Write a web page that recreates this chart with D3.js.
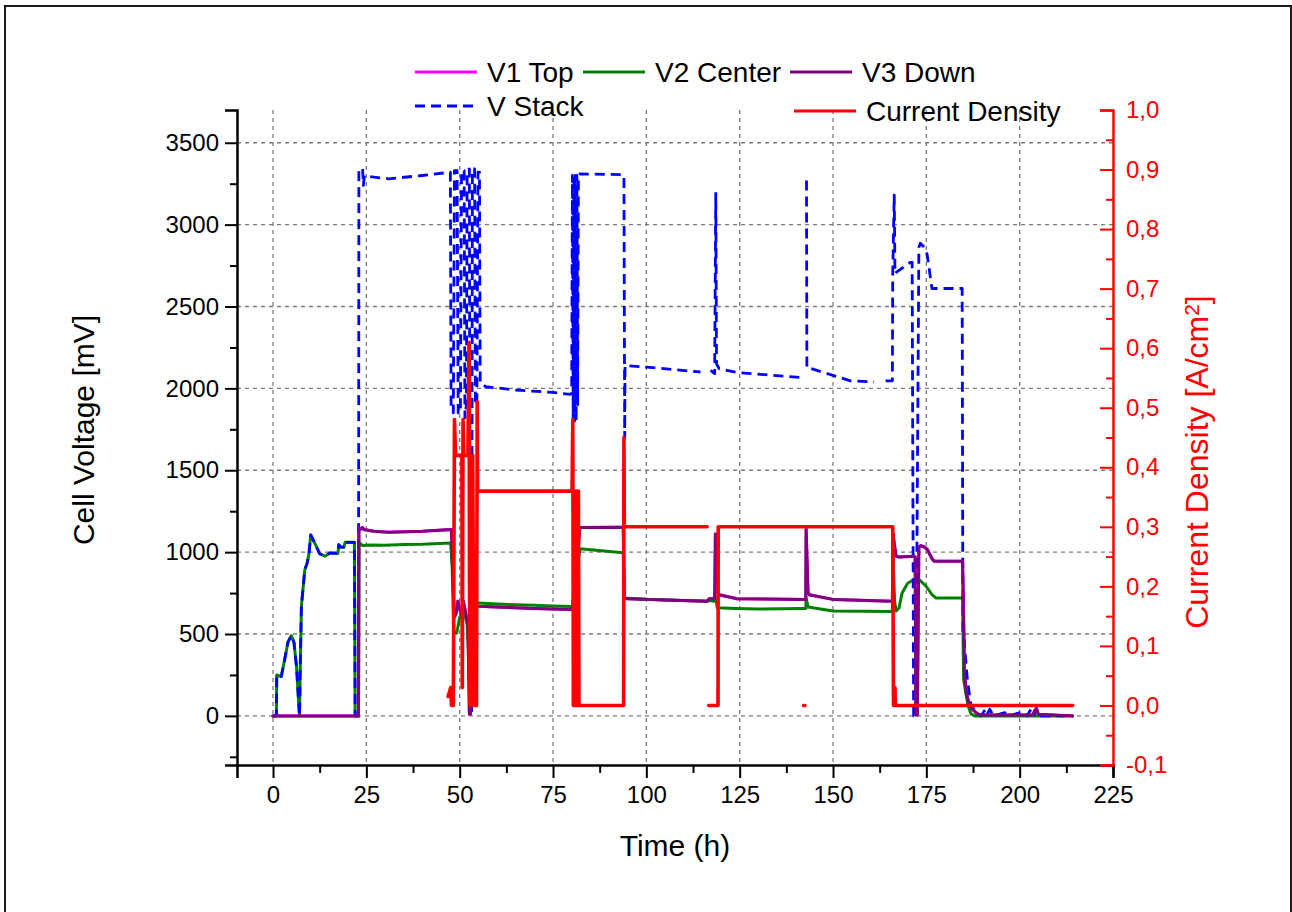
<!DOCTYPE html>
<html>
<head>
<meta charset="utf-8">
<script src="https://cdn.jsdelivr.net/npm/d3@7"></script>
<style>
  html, body { margin: 0; padding: 0; background: #fff; }
  svg { display: block; }
  text { font-family: "Liberation Sans", Arial, sans-serif; }
</style>
</head>
<body>
<svg id="chart" width="1292" height="912"></svg>
<script>
// ---------------- DATA ----------------
// Time axis ticks (h)
const xTicks = [0, 25, 50, 75, 100, 125, 150, 175, 200, 225];
// Left axis ticks (mV)
const yLeftTicks = [0, 500, 1000, 1500, 2000, 2500, 3000, 3500];
// Right axis ticks (A/cm2) and their labels
const yRightTicks = [-0.1, 0.0, 0.1, 0.2, 0.3, 0.4, 0.5, 0.6, 0.7, 0.8, 0.9, 1.0];
const yRightLabels = ["-0,1", "0,0", "0,1", "0,2", "0,3", "0,4", "0,5", "0,6", "0,7", "0,8", "0,9", "1,0"];

// V2 Center (mV)
const v2Time = [0, 0.9, 1.0, 2.2, 3.0, 4.0, 4.9, 5.6, 6.3, 7.0, 7.1, 7.3, 7.6, 8.5, 9.1, 9.6, 10.1, 11.5, 12.5, 13.9, 15.2, 17.4, 17.6, 18.2, 19.0, 19.3, 21.8, 22.0, 22.9, 23.0, 24.0, 26, 30, 35, 40, 47.6, 48.0, 48.4, 49.2, 50.0, 51.0, 52.0, 52.6, 53.2, 54.0, 55, 60, 65, 70, 75, 79.8, 80.2, 82.2, 93.8, 94.1, 100, 110, 116.3, 116.8, 118.3, 118.5, 119.0, 124, 130, 141.8, 142.7, 142.8, 143.3, 150, 165.9, 166.1, 166.5, 166.9, 167.7, 168.5, 170, 171.5, 173.2, 175, 176.5, 177.6, 184.7, 185.0, 185.5, 186.2, 187, 188, 214.2];
const v2Val  = [0, 0, 250, 240, 330, 450, 490, 450, 300, 30, 0, 300, 670, 890, 930, 985, 1105, 1040, 990, 975, 995, 992, 1045, 1030, 1030, 1060, 1060, 0, 0, 1060, 1040, 1044, 1042, 1046, 1048, 1055, 900, 520, 506, 600, 650, 560, 300, 640, 690, 690, 683, 678, 675, 671, 668, 668, 1020, 996, 720, 712, 705, 700, 705, 700, 730, 660, 655, 652, 655, 655, 720, 665, 640, 638, 965, 700, 640, 660, 750, 810, 830, 830, 790, 740, 720, 720, 220, 150, 60, 10, 0, 0];

// V3 Down (mV)
const v3Time = [0, 22.9, 23.0, 23.5, 24.0, 24.3, 27, 31, 40, 47.8, 48.1, 48.5, 49.0, 49.5, 50.0, 50.5, 51.0, 51.5, 52.2, 52.6, 52.9, 53.2, 53.8, 54.3, 55, 60, 70, 79.8, 80.2, 82.2, 93.8, 94.1, 95, 105, 116.3, 116.8, 118.3, 118.5, 119.0, 119.5, 124.3, 142.7, 142.8, 143.3, 143.6, 150.3, 165.9, 166.1, 166.6, 166.9, 167.7, 171.7, 172.0, 172.2, 172.6, 173.0, 173.5, 174.5, 175.3, 176.5, 177.1, 184.7, 185.0, 185.2, 185.8, 186.5, 187.4, 188.5, 189.7, 203.5, 204.0, 204.5, 205.0, 214.2];
const v3Val  = [0, 0, 1150, 1140, 1150, 1138, 1128, 1122, 1128, 1138, 900, 600, 620, 700, 650, 620, 700, 640, 560, 10, 10, 640, 700, 680, 670, 665, 655, 650, 650, 1150, 1152, 720, 715, 708, 700, 715, 715, 1110, 760, 740, 715, 710, 1140, 760, 740, 710, 700, 1110, 1020, 975, 970, 975, 970, 5, 5, 1030, 1040, 1030, 1015, 960, 945, 945, 600, 260, 130, 70, 40, 15, 5, 5, 30, 45, 10, 0];

// V1 Top (mV): in the picture it lies exactly beneath V3 Down and is not visible
const v1Time = v3Time;
const v1Val  = v3Val;

// V Stack (mV); null = gap in the trace
const stackTime = [0, 0.9, 1.0, 2.2, 3.0, 4.0, 4.9, 5.6, 6.3, 7.0, 7.1, 7.3, 7.6, 8.5, 9.1, 9.6, 10.1, 11.5, 12.5, 13.9, 15.2, 17.4, 17.6, 18.2, 19.0, 19.3, 21.8, 22.0, 22.9, 23.0, 24.0, 24.2, 24.5, 27, 31, 40, 47.5,
  47.7, 48.3, 48.6, 49.3, 49.6, 50.2, 50.5, 51.2, 51.4, 51.8, 52.0, 52.6, 52.8, 53.2, 53.4, 54.0, 54.2, 54.6, 54.9, 55.3, 55.5, 57, 65, 75, 79.6, 80.0,
  80.2, 80.4, 80.6, 80.8, 81.0, 81.2, 81.4, 81.6, 81.8, 82.2, 93.8, 94.0, 94.2, 94.3, 100, 114.5, null, 117.2, 118.3, 118.6, 118.8, 119.5, 124.3, 141.8, null,
  142.9, 143.0, 144.0, 154.7, 161.0, null, 164.1, 165.9, 166.0, 166.4, 166.6, 167.0, 170.7, 171.2, 171.6, 172.2, 173.0, 173.4, 174.5, 175.2, 176.5, 184.6,
  184.8, 185.1, 186.0, 187.0, 189.7, 190.5, 191, 192, 193, 196, 197, 201, 202, 203, 204, 204.5, 205, 214.2];
const stackVal = [0, 0, 250, 240, 330, 450, 490, 450, 300, 30, 0, 300, 670, 890, 930, 985, 1105, 1040, 990, 975, 995, 992, 1045, 1030, 1030, 1060, 1060, 0, 0, 3340, 3340, 3240, 3300, 3290, 3280, 3300, 3320,
  1900, 1850, 3330, 3330, 1850, 1850, 3330, 3330, 1820, 1900, 3330, 3340, 30, 30, 3340, 3340, 1900, 1900, 3320, 3320, 2030, 2010, 1990, 1975, 1964, 1970,
  3300, 1800, 3300, 1800, 3300, 1800, 3300, 1900, 3300, 3310, 3305, 3300, 1700, 2140, 2130, 2100, null, 2110, 2090, 3190, 2150, 2120, 2097, 2066, null,
  3270, 2125, 2122, 2046, 2040, null, 2046, 2046, 2700, 3180, 2700, 2710, 2770, 2770, 0, 0, 2860, 2886, 2860, 2820, 2610, 2610,
  500, 465, 220, 57, 0, 30, 0, 40, 0, 20, 0, 25, 0, 40, 10, 45, 0, 0];

// Current Density (A/cm2); null = gap
const curTime = [46.9, 47.6, 47.8, 48.3, 48.6, 48.9, 50.6, 50.7, 50.9, 51.1, 52.2, 52.5, 52.7, 53.3, 53.5, 53.8, 54.5, 54.7, 54.8, 80.1,
  80.3, 80.45, 80.6, 80.75, 80.9, 81.05, 81.2, 81.35, 81.5, 81.65, 81.8, 81.95, 82.2, 93.9, 94.0, 94.1, 116.3, null, 116.7, 119.2, 119.25,
  166.0, 166.2, 166.3, 166.6, 166.7, 214.2, null, 142.1, 142.5];
const curVal  = [0.015, 0.03, 0.0, 0.0, 0.48, 0.42, 0.42, 0.03, 0.48, 0.42, 0.42, 0.61, 0.0, 0.0, 0.42, 0.0, 0.0, 0.51, 0.36, 0.36,
  0.48, 0.0, 0.36, 0.0, 0.36, 0.0, 0.36, 0.0, 0.36, 0.0, 0.36, 0.0, 0.0, 0.0, 0.45, 0.3, 0.3, null, 0.0, 0.0, 0.3,
  0.3, 0.0, 0.03, 0.03, 0.0, 0.0, null, 0.0, 0.0];

// ---------------- DRAWING ----------------
const svg = d3.select("#chart");
const W = 1292, H = 912;
const plot = { left: 237, right: 1113, top: 110, bottom: 765 };

const x = d3.scaleLinear().domain([-9.65, 225]).range([plot.left, plot.right]);
const yL = d3.scaleLinear().domain([-300, 3700]).range([plot.bottom, plot.top]);
const yR = d3.scaleLinear().domain([-0.1, 1.0]).range([plot.bottom, plot.top]);

svg.append("rect").attr("x", 0).attr("y", 0).attr("width", W).attr("height", H).attr("fill", "#fff");
// outer frame
svg.append("rect").attr("x", 5).attr("y", 6).attr("width", 1286).attr("height", 930)
  .attr("fill", "none").attr("stroke", "#1a1a1a").attr("stroke-width", 2);

// grid
const grid = svg.append("g").attr("stroke", "#7a7a7a").attr("stroke-width", 1.3).attr("stroke-dasharray", "4,4");
xTicks.filter(t => t < 225).forEach(t => {
  grid.append("line").attr("x1", x(t)).attr("x2", x(t)).attr("y1", plot.top).attr("y2", plot.bottom);
});
yLeftTicks.forEach(t => {
  grid.append("line").attr("x1", plot.left).attr("x2", plot.right).attr("y1", yL(t)).attr("y2", yL(t));
});

// series
const zip = (t, v) => t.map((d, i) => [d, v[i]]);
const lineL = d3.line().defined(d => d[0] != null && d[1] != null).x(d => x(d[0])).y(d => yL(d[1]));
const lineR = d3.line().defined(d => d[0] != null && d[1] != null).x(d => x(d[0])).y(d => yR(d[1]));

const series = [
  { data: zip(v1Time, v1Val), line: lineL, color: "#ff00ff", width: 3, dash: null },
  { data: zip(v2Time, v2Val), line: lineL, color: "#008000", width: 3, dash: null },
  { data: zip(stackTime, stackVal), line: lineL, color: "#0000ff", width: 2.8, dash: "10,6" },
  { data: zip(v3Time, v3Val), line: lineL, color: "#800080", width: 3, dash: null },
  { data: zip(curTime, curVal), line: lineR, color: "#ff0000", width: 3.6, dash: null },
];
svg.append("clipPath").attr("id", "clip").append("rect")
  .attr("x", plot.left).attr("y", plot.top).attr("width", plot.right - plot.left).attr("height", plot.bottom - plot.top);
const gS = svg.append("g").attr("clip-path", "url(#clip)");
series.forEach(s => {
  gS.append("path").datum(s.data).attr("d", s.line).attr("fill", "none")
    .attr("stroke", s.color).attr("stroke-width", s.width)
    .attr("stroke-linejoin", "round").attr("stroke-linecap", s.dash ? "butt" : "round")
    .attr("stroke-dasharray", s.dash);
});

const tickFont = "24px";
// bottom axis
const minorX = d3.range(12.5, 225, 25);
const gx = svg.append("g").attr("transform", `translate(0,${plot.bottom})`);
gx.call(d3.axisBottom(x).tickValues(xTicks).tickSize(13).tickPadding(8).tickFormat(d3.format("d")));
gx.append("g").call(d3.axisBottom(x).tickValues(minorX).tickSize(8).tickFormat(""))
  .select(".domain").remove();
gx.selectAll(".domain").attr("stroke", "#000").attr("stroke-width", 2.5);
gx.selectAll(".tick line").attr("stroke", "#000").attr("stroke-width", 2);
gx.selectAll(".tick text").attr("font-size", tickFont).attr("fill", "#000");

// left axis
const minorYL = d3.range(-250, 3700, 500);
const gyl = svg.append("g").attr("transform", `translate(${plot.left},0)`);
gyl.call(d3.axisLeft(yL).tickValues(yLeftTicks).tickSize(12).tickPadding(6).tickFormat(d3.format("d")));
gyl.append("g").call(d3.axisLeft(yL).tickValues(minorYL).tickSize(7).tickFormat(""))
  .select(".domain").remove();
gyl.selectAll(".domain").attr("stroke", "#000").attr("stroke-width", 2.5);
gyl.selectAll(".tick line").attr("stroke", "#000").attr("stroke-width", 2);
gyl.selectAll(".tick text").attr("font-size", tickFont).attr("fill", "#000");

// right axis (red, ticks pointing inward)
const minorYR = d3.range(-0.05, 1.0, 0.1);
const gyr = svg.append("g").attr("transform", `translate(${plot.right},0)`);
gyr.call(d3.axisRight(yR).tickValues(yRightTicks).tickSize(-13).tickPadding(13)
  .tickFormat((d, i) => yRightLabels[i]));
gyr.append("g").call(d3.axisRight(yR).tickValues(minorYR).tickSize(-7).tickFormat(""))
  .select(".domain").remove();
gyr.selectAll(".domain").attr("stroke", "#ff0000").attr("stroke-width", 2.5);
gyr.selectAll(".tick line").attr("stroke", "#ff0000").attr("stroke-width", 2);
gyr.selectAll(".tick text").attr("font-size", tickFont).attr("fill", "#ff0000");

// axis titles
svg.append("text").attr("transform", "translate(94,430) rotate(-90)")
  .attr("text-anchor", "middle").attr("font-size", "30px").attr("fill", "#000").text("Cell Voltage [mV]");
svg.append("text").attr("x", 675).attr("y", 856).attr("text-anchor", "middle")
  .attr("font-size", "30px").attr("fill", "#000").text("Time (h)");
const rt = svg.append("text").attr("transform", "translate(1208,462) rotate(-90)")
  .attr("text-anchor", "middle").attr("font-size", "32px").attr("fill", "#ff0000");
rt.append("tspan").text("Current Density [A/cm");
rt.append("tspan").attr("dy", "-0.45em").attr("font-size", "21px").text("2");
rt.append("tspan").attr("dy", "0.3em").text("]");

// legend
const legend = [
  { label: "V1 Top", color: "#ff00ff", dash: null, x: 415, y: 72 },
  { label: "V2 Center", color: "#008000", dash: null, x: 583, y: 72 },
  { label: "V3 Down", color: "#800080", dash: null, x: 790, y: 72 },
  { label: "V Stack", color: "#0000ff", dash: "10,6", x: 415, y: 106 },
  { label: "Current Density", color: "#ff0000", dash: null, x: 794, y: 111 },
];
const gLeg = svg.append("g");
legend.forEach(l => {
  gLeg.append("line").attr("x1", l.x).attr("x2", l.x + 62).attr("y1", l.y).attr("y2", l.y)
    .attr("stroke", l.color).attr("stroke-width", 3).attr("stroke-dasharray", l.dash);
  gLeg.append("text").attr("x", l.x + 72).attr("y", l.y + 10).attr("font-size", "28px")
    .attr("fill", "#000").text(l.label);
});
</script>
</body>
</html>
